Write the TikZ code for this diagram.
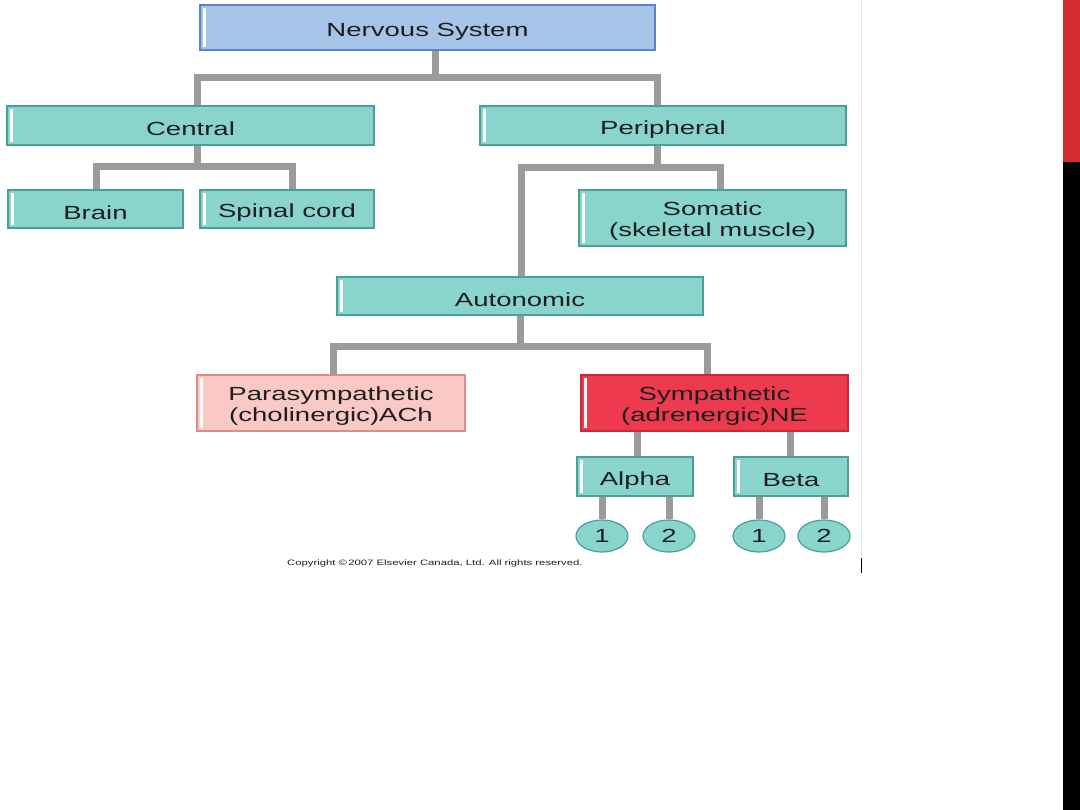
\documentclass[tikz,border=0pt]{standalone}
\usepackage{fontspec}
\setmainfont{Liberation Sans}
\newfontfamily\wide[FakeStretch=1.45]{Liberation Sans}
\usetikzlibrary{shapes.geometric}
\definecolor{tealfill}{RGB}{138,212,206}
\definecolor{tealedge}{RGB}{72,160,150}
\definecolor{bluefill}{RGB}{166,196,232}
\definecolor{blueedge}{RGB}{92,132,190}
\definecolor{pinkfill}{RGB}{250,201,197}
\definecolor{pinkedge}{RGB}{222,140,135}
\definecolor{redfill}{RGB}{238,58,78}
\definecolor{rededge}{RGB}{200,40,55}
\definecolor{conncol}{RGB}{155,155,155}
\definecolor{textc}{RGB}{30,30,30}
\definecolor{barred}{RGB}{213,43,48}
\newcommand\twoln[2]{\raisebox{-4pt}[\height][\depth]{\begin{tabular}{@{}c@{}}#1\\#2\end{tabular}}}
\begin{document}
\begin{tikzpicture}[x=1pt,y=-1pt,
  box/.style={rectangle, draw=tealedge, line width=1.2pt, fill=tealfill, inner sep=0pt,
    text=textc, font=\wide\fontsize{19}{21}\selectfont,
    path picture={\fill[white] ([xshift=3pt,yshift=-3pt]path picture bounding box.north west)
      rectangle ([xshift=6pt,yshift=3pt]path picture bounding box.south west);}},
  onel/.style={box, execute at begin node={\rule{0pt}{21pt}}},
  circ/.style={ellipse, draw=tealedge, line width=1.2pt, fill=tealfill, inner sep=0pt,
    minimum width=52pt, minimum height=32pt, text=textc, font=\wide\fontsize{19}{21}\selectfont},
  conn/.style={draw=conncol, line width=7pt}]
\useasboundingbox (0,0) rectangle (1080,810);
\fill[white] (0,0) rectangle (1080,810);
\fill[barred] (1063,0) rectangle (1080,162);
\fill[black] (1063,162) rectangle (1080,810);
\draw[black!12, line width=0.8pt] (861,0) -- (861,556);
\draw[black, line width=1pt] (861,558) -- (861,573);

% nodes
\node[onel, fill=bluefill, draw=blueedge, minimum width=455pt, minimum height=45pt] (ns) at (427.5,27.5) {Nervous System};
\node[onel, minimum width=367pt, minimum height=39pt] (central) at (190.5,125.5) {Central};
\node[onel, minimum width=366pt, minimum height=39pt] (peri) at (663,125.5) {Peripheral};
\node[onel, minimum width=175pt, minimum height=38pt] (brain) at (95.5,209) {Brain};
\node[onel, minimum width=174pt, minimum height=38pt] (spinal) at (287,209) {Spinal cord};
\node[box, minimum width=267pt, minimum height=56pt] (somatic) at (712.5,218) {\twoln{Somatic}{(skeletal muscle)}};
\node[onel, minimum width=366pt, minimum height=38pt] (auto) at (520,296) {Autonomic};
\node[box, fill=pinkfill, draw=pinkedge, minimum width=268pt, minimum height=56pt] (para) at (331,403) {\twoln{Parasympathetic}{(cholinergic)ACh}};
\node[box, fill=redfill, draw=rededge, minimum width=267pt, minimum height=56pt] (symp) at (714.5,403) {\twoln{Sympathetic}{(adrenergic)NE}};
\node[onel, minimum width=116pt, minimum height=39pt] (alpha) at (635,476.5) {Alpha};
\node[onel, minimum width=114pt, minimum height=39pt] (beta) at (791,476.5) {Beta};
\node[circ] (a1) at (602,536) {1};
\node[circ] (a2) at (669,536) {2};
\node[circ] (b1) at (759,536) {1};
\node[circ] (b2) at (824,536) {2};
\node[text=textc, font=\wide\fontsize{7.8}{9}\selectfont, anchor=west, inner sep=0pt] (copy) at (287,563) {Copyright \textcopyright\,2007 Elsevier Canada, Ltd. All rights reserved.};

% connectors
\coordinate (j1) at (435,78);
\coordinate (xc) at (197,0);
\coordinate (xp) at (657,0);
\draw[conn] (ns.south -| j1) -- (j1);
\draw[conn] (central.north -| xc) |- (j1) -| (peri.north -| xp);

\coordinate (j2) at (197,167);
\coordinate (xb) at (96,0);
\coordinate (xs) at (292,0);
\draw[conn] (central.south -| j2) -- (j2);
\draw[conn] (brain.north -| xb) |- (j2) -| (spinal.north -| xs);

\coordinate (j3) at (657,168);
\coordinate (xa) at (521,0);
\coordinate (xm) at (720,0);
\draw[conn] (peri.south -| j3) -- (j3);
\draw[conn] (auto.north -| xa) |- (j3) -| (somatic.north -| xm);

\coordinate (j4) at (520,347);
\coordinate (xpa) at (333,0);
\coordinate (xsy) at (707,0);
\draw[conn] (auto.south -| j4) -- (j4);
\draw[conn] (para.north -| xpa) |- (j4) -| (symp.north -| xsy);

\coordinate (xal) at (637,0);
\coordinate (xbe) at (790,0);
\draw[conn] (symp.south -| xal) -- (alpha.north -| xal);
\draw[conn] (symp.south -| xbe) -- (beta.north -| xbe);

\draw[conn] (alpha.south -| a1) -- (a1.north);
\draw[conn] (alpha.south -| a2) -- (a2.north);
\draw[conn] (beta.south -| b1) -- (b1.north);
\draw[conn] (beta.south -| b2) -- (b2.north);
\end{tikzpicture}
\end{document}
